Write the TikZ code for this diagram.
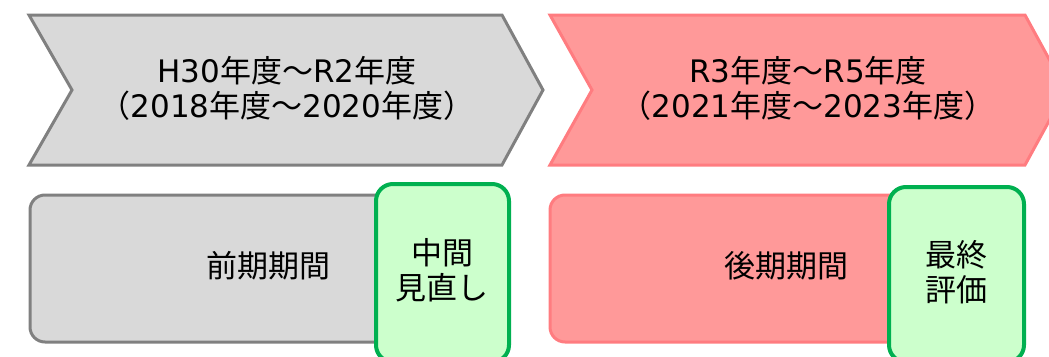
\documentclass[tikz,border=0pt]{standalone}
\usepackage{fontspec}
\newfontfamily\jpfont{Noto Sans CJK JP}
\newfontfamily\latfont{DejaVu Sans}
\newcommand\lat[1]{{\latfont #1}}
\definecolor{grayfill}{HTML}{D9D9D9}
\definecolor{grayline}{HTML}{808080}
\definecolor{pinkfill}{HTML}{FF9999}
\definecolor{pinkline}{HTML}{FF7C80}
\definecolor{greenfill}{HTML}{CCFFCC}
\definecolor{greenline}{HTML}{00B050}
\begin{document}
\begin{tikzpicture}[x=1pt,y=-1pt,
  lbl/.style={font=\jpfont\fontsize{31}{35}\selectfont, align=center, text=black, inner sep=0pt},
  graybox/.style={draw=grayline, fill=grayfill, line width=3pt, rounded corners=15pt},
  pinkbox/.style={draw=pinkline, fill=pinkfill, line width=3pt, rounded corners=15pt},
  greenbox/.style={draw=greenline, fill=greenfill, line width=4pt, rounded corners=17pt},
  grayarrow/.style={draw=grayline, fill=grayfill, line width=3pt},
  pinkarrow/.style={draw=pinkline, fill=pinkfill, line width=3pt}]
\useasboundingbox (0,0) rectangle (1049,356);
\clip (0,0) rectangle (1049,356);
% chevrons
\path[grayarrow] (29,15) -- (502,15) -- (543,90) -- (502,165) -- (29,165) -- (72,90) -- cycle;
\path[pinkarrow] (550,15) -- (1025,15) -- (1066,90) -- (1025,165) -- (550,165) -- (592,90) -- cycle;
\node[lbl] (t1) at (287,88) {\lat{H30}年度～\lat{R2}年度\\（\lat{2018}年度～\lat{2020}年度）};
\node[lbl] (t2) at (808,88) {\lat{R3}年度～\lat{R5}年度\\（\lat{2021}年度～\lat{2023}年度）};
% bottom boxes
\path[graybox] (30,195) rectangle (500,342);
\path[pinkbox] (550,195) rectangle (1020,342);
\node[lbl] (b1) at (268,266) {前期期間};
\node[lbl] (b2) at (786,266) {後期期間};
\path[greenbox] (376,184) rectangle (509,362);
\path[greenbox] (889,187) rectangle (1024,362);
\node[lbl] (g1) at (442,270) {中間\\見直し};
\node[lbl] (g2) at (956,272) {最終\\評価};
\end{tikzpicture}
\end{document}
